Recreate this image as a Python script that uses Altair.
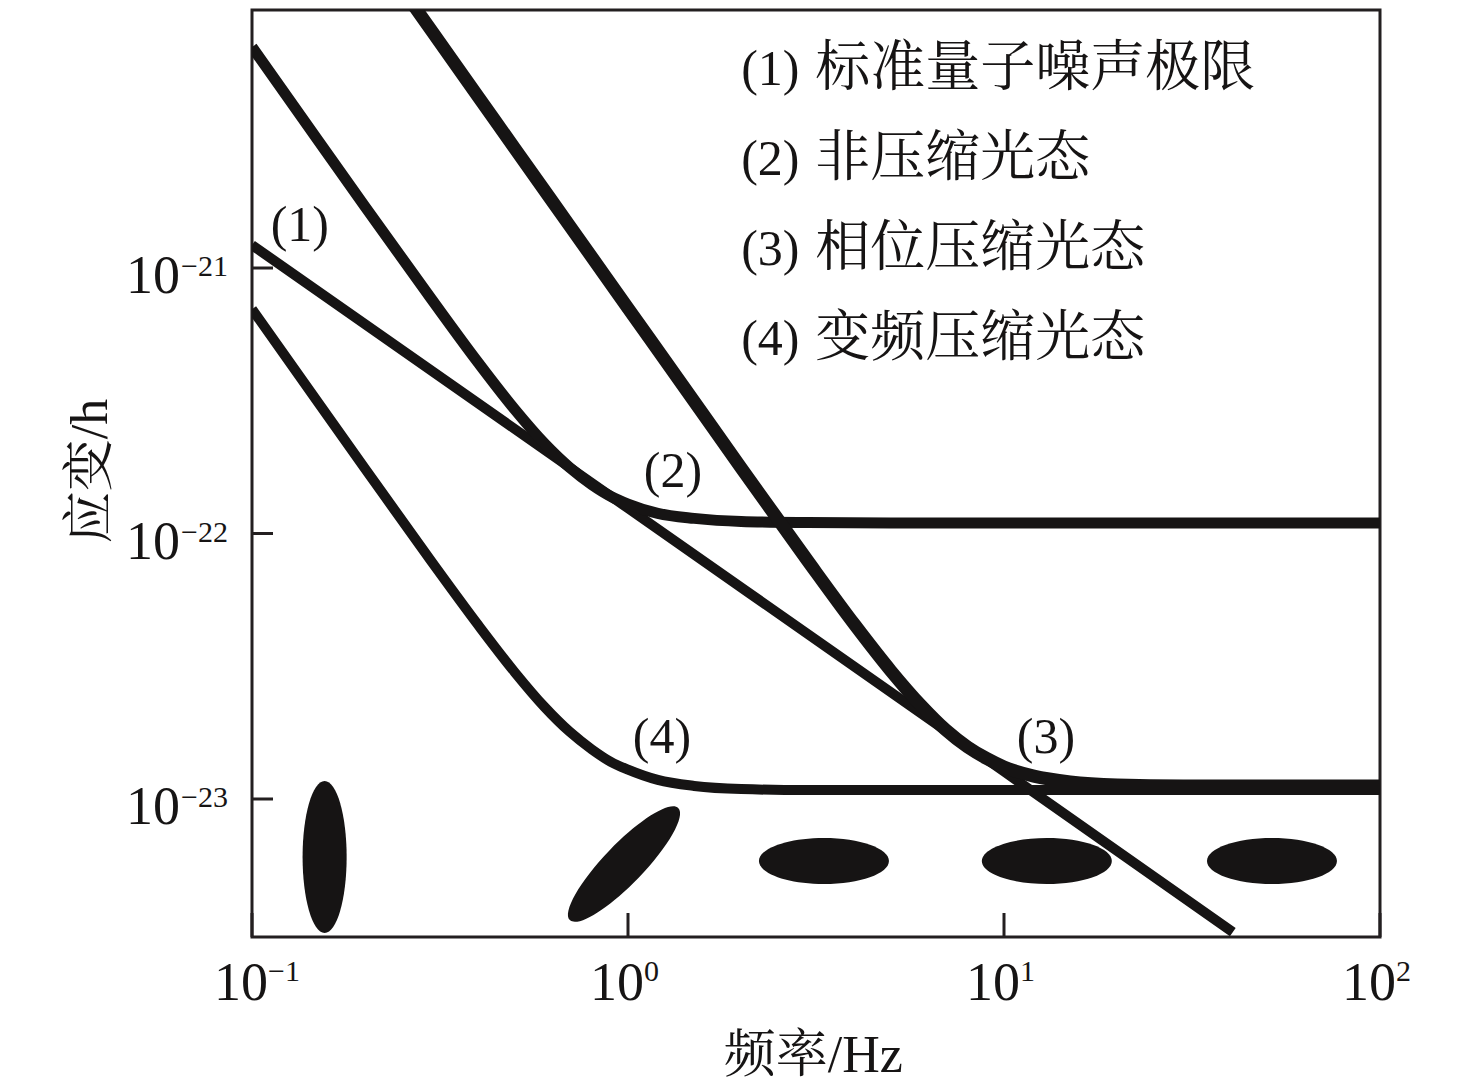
import altair as alt
import pandas as pd

# ---------------- data ----------------
# (1) standard quantum limit
sql_f = [0.1, 1.0, 10.0, 40.6]
sql_h = [1.22e-21, 1.245e-22, 1.27e-23, 3.15e-24]

# (2) non-squeezed (coherent) light
coh_f = [0.1, 0.15, 0.2, 0.3, 0.4, 0.5, 0.6, 0.7, 0.8, 0.9, 1.0, 1.2, 1.5, 2.0, 3.0, 5.0, 100.0]
coh_h = [6.80e-21, 3.02e-21, 1.70e-21, 7.64e-22, 4.39e-22, 2.93e-22, 2.18e-22, 1.77e-22,
         1.53e-22, 1.38e-22, 1.29e-22, 1.19e-22, 1.14e-22, 1.11e-22, 1.10e-22, 1.096e-22, 1.096e-22]

# (3) phase-squeezed light
ph_f = [0.25, 0.3, 0.4, 0.5, 0.7, 1.0, 1.5, 2.0, 3.0, 4.0, 5.0, 6.0, 7.0, 8.0, 9.0, 10.0,
        12.0, 15.0, 20.0, 30.0, 100.0]
ph_h = [1.13e-20, 7.84e-21, 4.41e-21, 2.82e-21, 1.44e-21, 7.06e-22, 3.14e-22, 1.765e-22,
        7.92e-23, 4.55e-23, 3.04e-23, 2.26e-23, 1.82e-23, 1.57e-23, 1.42e-23, 1.32e-23,
        1.22e-23, 1.16e-23, 1.13e-23, 1.12e-23, 1.12e-23]

# (4) frequency-dependent squeezed light
fd_f = [0.1, 0.15, 0.2, 0.3, 0.4, 0.5, 0.6, 0.7, 0.8, 0.9, 1.0, 1.2, 1.5, 2.0, 3.0, 100.0]
fd_h = [7.0e-22, 3.11e-22, 1.753e-22, 7.85e-23, 4.51e-23, 3.00e-23, 2.22e-23, 1.79e-23,
        1.54e-23, 1.38e-23, 1.29e-23, 1.18e-23, 1.12e-23, 1.09e-23, 1.08e-23, 1.08e-23]

# legend-like annotation block (anchor positions in data units)
legend_num = ["(1)", "(2)", "(3)", "(4)"]
legend_text = ["标准量子噪声极限", "非压缩光态", "相位压缩光态", "变频压缩光态"]
legend_f = [2.0, 2.0, 2.0, 2.0]
legend_h = [4.89e-21, 2.24e-21, 1.03e-21, 4.70e-22]

# curve labels
curve_lbl = ["(1)", "(2)", "(3)", "(4)"]
curve_lbl_f = [0.134, 1.317, 12.93, 1.231]
curve_lbl_h = [1.265e-21, 1.50e-22, 1.49e-23, 1.49e-23]

# squeezing ellipses (centres)
ell_v_f, ell_v_h = [0.156], [6.05e-24]
ell_t_f, ell_t_h = [0.976], [5.69e-24]
ell_h_f, ell_h_h = [3.32, 13.0, 51.6], [5.84e-24, 5.84e-24, 5.84e-24]

# axes
x_ticks = [0.1, 1.0, 10.0, 100.0]
x_exp = ["\u22121", "0", "1", "2"]
y_ticks = [1e-21, 1e-22, 1e-23]
y_exp = ["\u221221", "\u221222", "\u221223"]
x_title, y_title = "频率/Hz", "应变/h"
X_MIN, X_MAX = 0.1, 100.0
Y_MIN, Y_MAX = 10 ** -23.5198, 10 ** -20.0282
X_MID, Y_MID = 3.11, 1.72e-22   # centre of the axis titles

# ---------------- styling ----------------
INK = "#161414"
FRAME = "#231f20"
SERIF = "Liberation Serif, Times New Roman, serif"
MIXED = "Liberation Serif, Noto Serif CJK SC, Noto Sans CJK SC, serif"
CJK = "Noto Serif CJK SC, Noto Sans CJK SC, serif"
W, H = 1128, 927

xs = alt.Scale(type="log", domain=[X_MIN, X_MAX], nice=False)
ys = alt.Scale(type="log", domain=[Y_MIN, Y_MAX], nice=False)


def df(f, h, **extra):
    d = {"f": f, "h": h}
    d.update(extra)
    return pd.DataFrame(d)


def enc(chart):
    return chart.encode(
        x=alt.X("f:Q", scale=xs, axis=None, title="频率/Hz"),
        y=alt.Y("h:Q", scale=ys, axis=None, title="应变/h"),
    )


def line(f, h, width):
    return enc(alt.Chart(df(f, h)).mark_line(color=INK, strokeWidth=width, clip=True,
                                             interpolate="monotone", strokeCap="butt"))


def text(f, h, t, **kw):
    return enc(alt.Chart(df(f, h, t=t)).mark_text(color=INK, **kw)).encode(text="t:N")


l1 = line(sql_f, sql_h, 10)
l2 = line(coh_f, coh_h, 11)
l3 = line(ph_f, ph_h, 13)
l4 = line(fd_f, fd_h, 10)

# ellipse shapes (unit box paths)
P_H = ("M-1,0C-1,-0.1955,-0.552,-0.354,0,-0.354C0.552,-0.354,1,-0.1955,1,0"
       "C1,0.1955,0.552,0.354,0,0.354C-0.552,0.354,-1,0.1955,-1,0Z")
P_V = ("M0,-1C0.160,-1,0.29,-0.552,0.29,0C0.29,0.552,0.160,1,0,1"
       "C-0.160,1,-0.29,0.552,-0.29,0C-0.29,-0.552,-0.160,-1,0,-1Z")
P_T = ("M0,-1C0.1414,-1,0.256,-0.552,0.256,0C0.256,0.552,0.1414,1,0,1"
       "C-0.1414,1,-0.256,0.552,-0.256,0C-0.256,-0.552,-0.1414,-1,0,-1Z")

e_v = enc(alt.Chart(df(ell_v_f, ell_v_h)).mark_point(shape=P_V, size=23104, filled=True,
                                                     color=INK, opacity=1, strokeWidth=0))
e_t = enc(alt.Chart(df(ell_t_f, ell_t_h)).mark_point(shape=P_T, size=24336, filled=True,
                                                     color=INK, opacity=1, strokeWidth=0,
                                                     angle=44))
e_h = enc(alt.Chart(df(ell_h_f, ell_h_h)).mark_point(shape=P_H, size=16900, filled=True,
                                                     color=INK, opacity=1, strokeWidth=0))

# inward ticks
xt = enc(alt.Chart(df(x_ticks, [Y_MIN] * len(x_ticks))).mark_rule(color=FRAME, strokeWidth=3)
         ).encode(y2=alt.value(H - 24))
yt = enc(alt.Chart(df([X_MIN] * len(y_ticks), y_ticks)).mark_rule(color=FRAME, strokeWidth=3)
         ).encode(x2=alt.value(21))

# tick labels: base "10" and exponent
x_base = text(x_ticks, [Y_MIN] * 4, ["10"] * 4, font=SERIF, fontSize=54, align="center",
              baseline="alphabetic", dx=-11, dy=63)
x_sup = text(x_ticks, [Y_MIN] * 4, x_exp, font=SERIF, fontSize=30, align="left",
             baseline="alphabetic", dx=16, dy=44)
y_base = text([X_MIN] * 3, y_ticks, ["10"] * 3, font=SERIF, fontSize=54, align="right",
              baseline="alphabetic", dx=-72, dy=25)
y_sup = text([X_MIN] * 3, y_ticks, y_exp, font=SERIF, fontSize=30, align="left",
             baseline="alphabetic", dx=-71, dy=8)

# axis titles
x_tt = text([X_MID], [Y_MIN], [x_title], font=MIXED, fontSize=52, align="center",
            baseline="alphabetic", dy=135)
y_tt = text([X_MIN], [Y_MID], [y_title], font=MIXED, fontSize=52, align="center",
            baseline="alphabetic", angle=270, dy=-145)

# annotations
leg_num = text(legend_f, legend_h, legend_num, font=SERIF, fontSize=50, align="left",
               baseline="alphabetic")
leg_txt = text(legend_f, legend_h, legend_text, font=CJK, fontSize=55, align="left",
               baseline="alphabetic", dx=74)
labels = text(curve_lbl_f, curve_lbl_h, curve_lbl, font=SERIF, fontSize=50, align="center",
              baseline="alphabetic")

chart = alt.layer(
    l1, l2, l3, l4, e_v, e_t, e_h, xt, yt, x_base, x_sup, y_base, y_sup, x_tt, y_tt,
    leg_num, leg_txt, labels,
).properties(
    width=W, height=H,
    background="white",
    autosize=alt.AutoSizeParams(type="none"),
    padding={"left": 244, "top": 2, "right": 80, "bottom": 152},
).configure_view(stroke=FRAME, strokeWidth=3)

chart.save("out.html", embed_options={"renderer": "svg", "actions": False})
